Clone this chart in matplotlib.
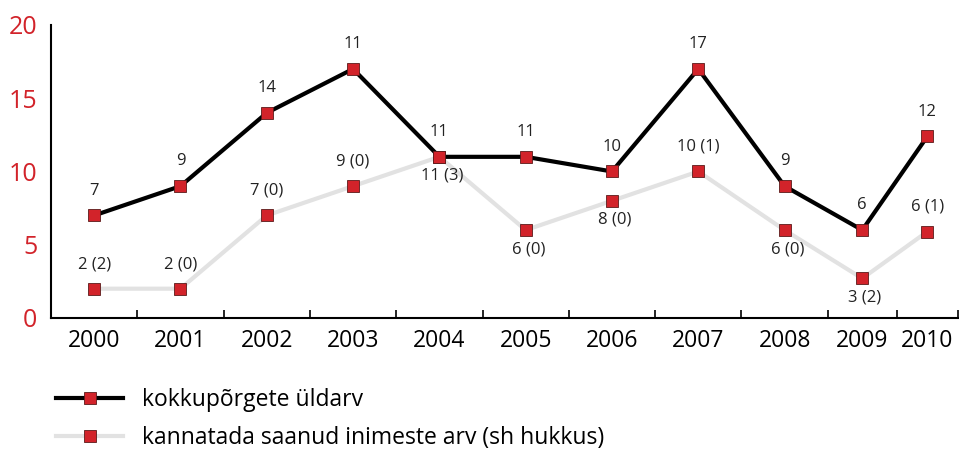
import numpy as np
import matplotlib.pyplot as plt

years = ['2000', '2001', '2002', '2003', '2004', '2005', '2006', '2007', '2008', '2009', '2010']
# last two columns are narrower in the original
col_widths = [1, 1, 1, 1, 1, 1, 1, 1, 1, 0.8, 0.71]

total = [7, 9, 14, 17, 11, 11, 10, 17, 9, 6, 12.4]
total_labels = ['7', '9', '14', '11', '11', '11', '10', '17', '9', '6', '12']

injured = [2, 2, 7, 9, 11, 6, 8, 10, 6, 2.7, 5.9]
injured_labels = ['2 (2)', '2 (0)', '7 (0)', '9 (0)', '11 (3)', '6 (0)', '8 (0)',
                  '10 (1)', '6 (0)', '3 (2)', '6 (1)']
injured_above = [True, True, True, True, False, False, False, True, False, False, True]

series_names = ['kokkupõrgete üldarv', 'kannatada saanud inimeste arv (sh hukkus)']

red = '#d2232a'
plt.rcParams['font.family'] = ['Open Sans', 'DejaVu Sans']

edges = np.concatenate(([0], np.cumsum(col_widths)))
x = (edges[:-1] + edges[1:]) / 2

fig = plt.figure(figsize=(9.59, 4.54), dpi=100)
ax = fig.add_axes([0.0532, 0.2996, 0.9458, 0.6454])

mk = dict(marker='s', markersize=8.5, markerfacecolor=red, markeredgecolor='#5a1a1a',
          markeredgewidth=0.6)
ax.plot(x, injured, color='#e2e2e2', lw=3, label=series_names[1], zorder=2, **mk)
ax.plot(x, total, color='black', lw=3, label=series_names[0], zorder=3, **mk)

for xi, v, t in zip(x, total, total_labels):
    ax.annotate(t, (xi, v), xytext=(0, 12), textcoords='offset points',
                ha='center', va='bottom', fontsize=12, color='#222222')
for xi, v, t, up in zip(x, injured, injured_labels, injured_above):
    off = 12 if up else -8
    ax.annotate(t, (xi, v), xytext=(0 if up else 2, off), textcoords='offset points',
                ha='center', va='bottom' if up else 'top', fontsize=12, color='#222222')

ax.set_xlim(edges[0], edges[-1])
ax.set_ylim(0, 20)
ax.set_yticks([0, 5, 10, 15, 20])
ax.tick_params(axis='y', length=0, pad=10, labelsize=18, labelcolor=red)

ax.set_xticks(x)
ax.set_xticklabels(years)
ax.set_xticks(edges[1:], minor=True)
ax.tick_params(axis='x', which='major', length=0, pad=8, labelsize=16.5)
ax.tick_params(axis='x', which='minor', direction='in', length=6, width=1.2)

for s in ['top', 'right']:
    ax.spines[s].set_visible(False)
ax.spines['left'].set_linewidth(1.5)
ax.spines['bottom'].set_linewidth(1.5)

h, l = ax.get_legend_handles_labels()
fig.legend(h[::-1], l[::-1], loc='upper left', bbox_to_anchor=(0.058, 0.145),
           frameon=False, fontsize=16.5, handlelength=2.96, handletextpad=0.82,
           labelspacing=0.62, borderaxespad=0, borderpad=0)

fig.savefig('out.png', dpi=100)
